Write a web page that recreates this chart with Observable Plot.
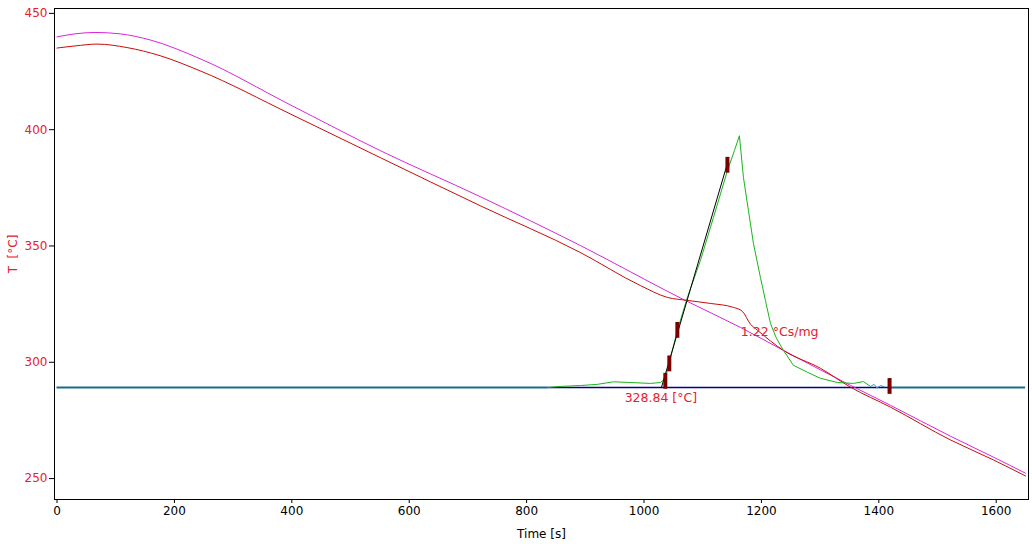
<!DOCTYPE html>
<html><head><meta charset="utf-8">
<script src="https://cdn.jsdelivr.net/npm/d3@7"></script>
<script src="https://cdn.jsdelivr.net/npm/@observablehq/plot@0.6"></script>
<style>body{margin:0;background:#fff;} svg{display:block;}</style>
</head><body><div id="chart"></div>
<script>
// ---- data ----
const xTicks = [0, 200, 400, 600, 800, 1000, 1200, 1400, 1600];
const yTicks = [250, 300, 350, 400, 450];

const magentaTime = [0, 30.7, 64.8, 107.4, 158.5, 243.7, 397.2, 550.6, 721.0, 891.5, 1067.0, 1164.2, 1237.5, 1351.7, 1419.9, 1522.1, 1595.4, 1650.0];
const magentaTemp = [439.9, 441.2, 441.8, 441.2, 438.6, 430.5, 410.7, 391.0, 371.2, 350.2, 327.0, 315.0, 305.1, 290.1, 281.5, 268.2, 259.2, 252.3];

const redTime = [0, 30.7, 68.2, 119.3, 175.6, 243.7, 397.2, 550.6, 721.0, 891.5, 993.7, 1039.7, 1073.9, 1113.1, 1152.3, 1167.6, 1181.3, 1193.2, 1237.5, 1300.6, 1351.7, 1419.9, 1522.1, 1595.4, 1650.0];
const redTemp = [435.1, 436.0, 436.8, 435.3, 431.8, 425.3, 406.8, 388.0, 367.3, 347.2, 333.0, 327.9, 326.6, 325.3, 323.6, 321.9, 316.4, 313.8, 305.1, 297.4, 289.3, 280.7, 266.6, 258.0, 251.1];

const greenTime = [836.9, 857.4, 891.5, 920.4, 947.7, 976.7, 1010.8, 1027.8, 1036.3, 1039.7, 1056.8, 1073.9, 1096.0, 1118.2, 1142.1, 1154.0, 1162.5, 1169.4, 1177.9, 1186.4, 1198.3, 1206.8, 1215.4, 1225.6, 1237.5, 1254.5, 1278.4, 1300.6, 1329.5, 1356.8, 1373.8, 1385.8];
const greenTemp = [289.2, 289.6, 290.0, 290.5, 291.6, 291.3, 290.9, 291.3, 293.0, 296.5, 313.7, 327.9, 343.7, 362.2, 382.4, 391.0, 397.4, 379.4, 365.2, 351.1, 336.5, 326.6, 316.7, 310.3, 305.1, 298.7, 295.7, 293.1, 291.3, 290.9, 291.7, 289.6];

const tailTime = [1385.8, 1392, 1397, 1403, 1410];
const tailTemp = [289.6, 290.5, 288.9, 290.0, 289.4];

const baselineTemp = 289.2;
const baselineOuterTime = [[0, 836.9], [1418, 1650]];
const baselineInnerTime = [836.9, 1418];

const tangentTime = [1029.6, 1142.1];
const tangentTemp = [289.1, 385.5];

const markerTime = [1036.3, 1043.1, 1056.8, 1142.1, 1418.3];
const markerTemp = [291.8, 299.3, 313.7, 384.7, 289.6];

const labelText = ["1.22 °Cs/mg", "328.84 [°C]"];
const labelTime = [1165, 967];
const labelTemp = [313.0, 284.8];

// ---- build ----
const zipXY = (xs, ys) => xs.map((x, i) => ({x, y: ys[i]}));
const magenta = zipXY(magentaTime, magentaTemp);
const red = zipXY(redTime, redTemp);
const green = zipXY(greenTime, greenTemp);
const tail = zipXY(tailTime, tailTemp);
const tangent = zipXY(tangentTime, tangentTemp);
const markers = markerTime.map((x, i) => ({x, y1: markerTemp[i] - 3.4, y2: markerTemp[i] + 3.4}));
const labels = labelText.map((t, i) => ({t, x: labelTime[i], y: labelTemp[i]}));
const baseOuter = baselineOuterTime.map(([a, b]) => ({x1: a, x2: b, y: baselineTemp}));
const baseInner = [{x1: baselineInnerTime[0], x2: baselineInnerTime[1], y: baselineTemp}];

const RED_TXT = "#e8202a";

const chart = Plot.plot({
  width: 1032,
  height: 544,
  marginLeft: 54,
  marginRight: 4,
  marginTop: 8,
  marginBottom: 45,
  style: {fontFamily: "DejaVu Sans", fontSize: "12px", background: "#fff", color: "black"},
  x: {domain: [-4.3, 1655], ticks: xTicks},
  y: {domain: [241, 452.1], ticks: yTicks},
  marks: [
    Plot.ruleY(baseOuter, {x1: "x1", x2: "x2", y: "y", stroke: "#1b6a86", strokeWidth: 2}),
    Plot.ruleY(baseInner, {x1: "x1", x2: "x2", y: "y", stroke: "#00008c", strokeWidth: 1.5}),
    Plot.line(magenta, {x: "x", y: "y", stroke: "#d926d9", strokeWidth: 1, curve: "monotone-x"}),
    Plot.line(red, {x: "x", y: "y", stroke: "#cc0a0a", strokeWidth: 1, curve: "monotone-x"}),
    Plot.line(green, {x: "x", y: "y", stroke: "#18b418", strokeWidth: 1}),
    Plot.line(tail, {x: "x", y: "y", stroke: "#2aa0c8", strokeWidth: 1}),
    Plot.line(tangent, {x: "x", y: "y", stroke: "black", strokeWidth: 1}),
    Plot.ruleX(markers, {x: "x", y1: "y1", y2: "y2", stroke: "#7a0000", strokeWidth: 4}),
    Plot.text(labels, {x: "x", y: "y", text: "t", fill: RED_TXT, textAnchor: "start", fontSize: 12.5}),
    Plot.frame({stroke: "black"}),
    Plot.axisX({ticks: xTicks, tickFormat: d => String(d), tickSize: 4, tickPadding: 3, label: "Time [s]", labelAnchor: "center", labelArrow: false, labelOffset: 38}),
    Plot.axisY({ticks: yTicks, tickFormat: d => String(d), tickSize: 5, tickPadding: 2, stroke: "black", fill: RED_TXT, label: "T\u00a0 [°C]", labelAnchor: "center", labelArrow: false, labelOffset: 46})
  ]
});
document.getElementById("chart").appendChild(chart);
</script></body></html>
